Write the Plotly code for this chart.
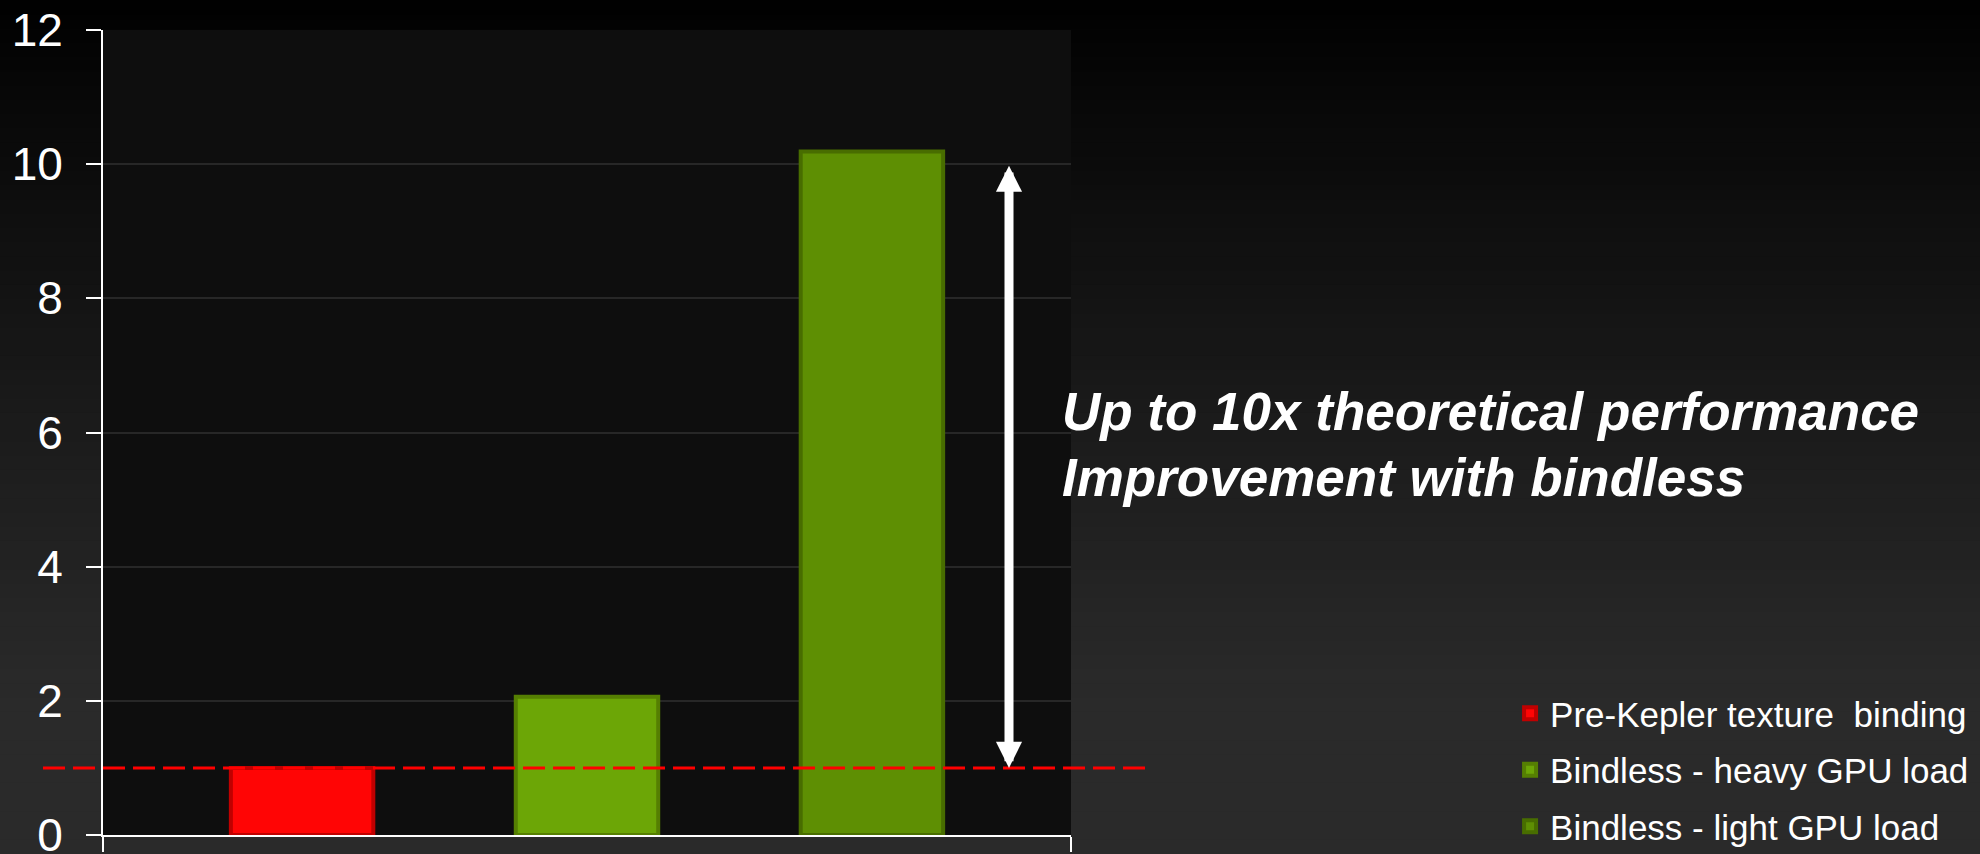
import plotly.graph_objects as go

# ---- data -------------------------------------------------------------
categories = [""]
series_names = [
    "Pre-Kepler texture\u00a0 binding",
    "Bindless - heavy GPU load",
    "Bindless - light GPU load",
]
series_values = [1.0, 2.06, 10.19]
y_ticks = [0, 2, 4, 6, 8, 10, 12]
baseline_value = 1.0
arrow_top_value = 10.0
headline_lines = ["Up to 10x theoretical performance", "Improvement with bindless"]

# ---- style ------------------------------------------------------------
W, H = 1980, 854
M_L, M_R, M_T, M_B = 103, 909, 30, 19
PLOT_W = W - M_L - M_R
PLOT_H = H - M_T - M_B
FONT = "Liberation Sans, Arial, sans-serif"

bar_fill = ["#ff0505", "#6ca606", "#5e8f03"]
bar_edge = ["#c00000", "#557f02", "#486d00"]


def px_to_paper_x(px):
    return (px - M_L) / PLOT_W


def px_to_paper_y(py):
    return 1 - (py - M_T) / PLOT_H


fig = go.Figure()

for name, val, fill, edge in zip(series_names, series_values, bar_fill, bar_edge):
    fig.add_trace(
        go.Bar(
            x=categories,
            y=[val],
            name=name,
            legendgroup=name,
            marker=dict(color=fill, line=dict(color=edge, width=4)),
            hoverinfo="skip",
        )
    )

shapes = []

# page background: vertical dark gradient
n_bands = 60
for i in range(n_bands):
    y0 = H * i / n_bands
    y1 = H * (i + 1) / n_bands
    mid = (y0 + y1) / 2
    v = int(round(42 * min(1.0, mid / 700) ** 0.9))
    shapes.append(
        dict(
            type="rect", layer="below", xref="paper", yref="paper",
            x0=px_to_paper_x(0), x1=px_to_paper_x(W),
            y0=px_to_paper_y(y1 + 1), y1=px_to_paper_y(y0),
            fillcolor=f"rgb({v},{v},{v})", line=dict(width=0),
        )
    )

# plot area background
shapes.append(
    dict(
        type="rect", layer="below", xref="paper", yref="paper",
        x0=0, x1=1, y0=0, y1=1, fillcolor="#0e0e0e", line=dict(width=0),
    )
)

# dashed reference line at the baseline speed
shapes.append(
    dict(
        type="line", xref="paper", yref="y",
        x0=px_to_paper_x(43), x1=px_to_paper_x(1147),
        y0=baseline_value, y1=baseline_value,
        line=dict(color="#ff0000", width=3, dash="22px,8px"),
    )
)

annotations = [
    # double-headed arrow spanning baseline to 10x
    dict(
        xref="paper", yref="y", x=px_to_paper_x(1009), y=baseline_value,
        axref="pixel", ayref="y", ax=0, ay=arrow_top_value,
        text="", showarrow=True, arrowside="end+start",
        arrowhead=2, startarrowhead=2, arrowsize=0.58, startarrowsize=0.58,
        arrowwidth=9, arrowcolor="white", standoff=0, startstandoff=0,
    ),
]

for line_text, cy in zip(headline_lines, [411, 477]):
    annotations.append(
        dict(
            xref="paper", yref="paper", x=px_to_paper_x(1060), y=px_to_paper_y(cy),
            xanchor="left", yanchor="middle", showarrow=False, text=line_text,
            font=dict(family=FONT, size=53, color="white", weight="bold", style="italic"),
        )
    )

fig.update_layout(
    width=W, height=H,
    margin=dict(l=M_L, r=M_R, t=M_T, b=M_B, pad=0, autoexpand=False),
    paper_bgcolor="#000000", plot_bgcolor="#0e0e0e",
    barmode="group", bargap=0.117, bargroupgap=0.5,
    shapes=shapes, annotations=annotations,
    showlegend=True,
    legend=dict(
        xref="container", yref="container", x=0.997, y=0.199,
        xanchor="right", yanchor="top",
        font=dict(family=FONT, size=35, color="white"),
        bgcolor="rgba(0,0,0,0)", tracegroupgap=8, traceorder="grouped",
    ),
    font=dict(family=FONT, color="white"),
)

fig.update_xaxes(
    type="category", showticklabels=False, showgrid=False, zeroline=False,
    showline=True, linecolor="white", linewidth=2, automargin=False,
    ticks="outside", tickson="boundaries", ticklen=15, tickwidth=2, tickcolor="white",
)
fig.update_yaxes(
    range=[0, 12], tickvals=y_ticks, ticktext=[str(t) for t in y_ticks],
    showline=True, linecolor="white", linewidth=2, automargin=False,
    ticks="outside", ticklen=15, tickwidth=2, tickcolor="white",
    showgrid=True, gridcolor="#272727", gridwidth=1.5, zeroline=False,
    tickfont=dict(family=FONT, size=46, color="white"), ticklabelstandoff=14,
    ticklabeloverflow="allow",
)

fig.write_html("out.html")
